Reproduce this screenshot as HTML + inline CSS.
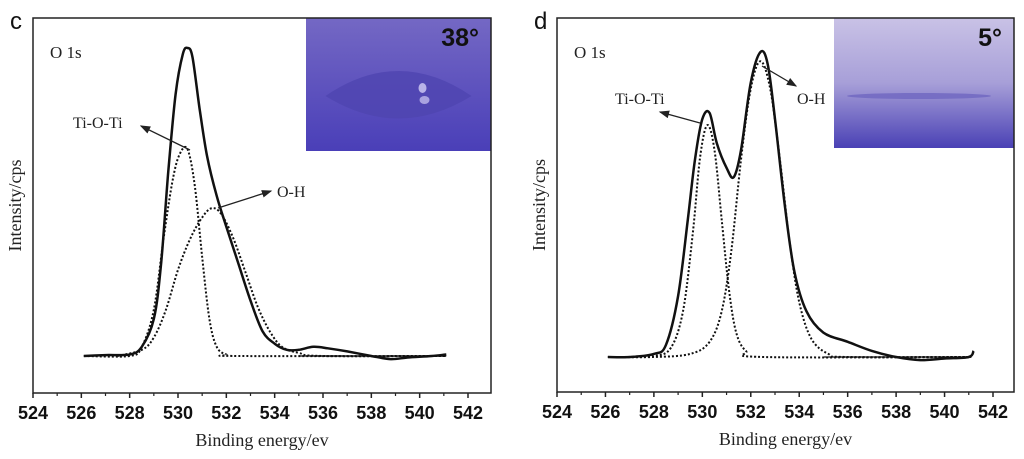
<!DOCTYPE html>
<html><head><meta charset="utf-8"><style>
body{margin:0;background:#fff;}
svg{display:block;}
.tick{font:bold 18px "Liberation Sans",sans-serif;fill:#111;}
.title{font:18px "Liberation Serif",serif;fill:#222;}
.ann{font:16px "Liberation Serif",serif;fill:#222;}
</style></head><body>
<svg id="chart" width="1024" height="459" viewBox="0 0 1024 459">
<defs>
<linearGradient id="gc" x1="0" y1="0" x2="0" y2="1"><stop offset="0" stop-color="#7468c4"/><stop offset="1" stop-color="#4a3fb8"/></linearGradient>
<linearGradient id="gd" x1="0" y1="0" x2="0" y2="1"><stop offset="0" stop-color="#c9c2e6"/><stop offset="0.5" stop-color="#a79fd8"/><stop offset="1" stop-color="#4a41b5"/></linearGradient>
<marker id="ar" markerWidth="8" markerHeight="6" refX="7" refY="3" orient="auto"><path d="M0,0 L8,3 L0,6 z" fill="#222"/></marker>
</defs>
</svg>
<script>
const xTicks=[524,526,528,530,532,534,536,538,540,542];
// panel c
const cEnvX=[526.1,527,528,528.5,529,529.3,529.6,529.9,530.2,530.4,530.6,530.9,531.2,531.6,532,532.5,533,533.5,534,534.5,535,535.6,536.2,537,538,538.8,539.5,540.5,541.1];
const cEnvY=[0,0.3,0.5,3,12,30,60,85,98,100,97,80,65,52,42,30,18,8,4,2,2,3,2.5,1.5,0,-1,-0.5,0,0.5];
const cTiX=[526.1,528,528.5,529,529.4,529.8,530.1,530.4,530.7,531,531.3,531.6,532,532.5,541.1];
const cTiY=[0,0,3,15,38,58,66,67,55,32,12,3,0.5,0,0];
const cOhX=[527.5,528.5,529,529.5,530,530.5,531,531.4,531.8,532.3,532.8,533.3,533.8,534.3,535,536,541.1];
const cOhY=[0,2,6,15,28,38,45,48,46,38,27,16,8,3,1,0,0];
// panel d
const dEnvX=[526.1,527,528,528.5,529,529.4,529.7,530,530.3,530.6,531,531.3,531.6,532,532.4,532.7,533,533.4,533.8,534.3,535,536,537,538,539,540,541,541.2];
const dEnvY=[0,0,1,4,20,45,65,78,80,70,62,59,68,90,100,96,78,50,28,15,8,5,2,0,-1,-0.5,0,2];
const dTiX=[526.1,527,528,528.7,529.2,529.6,529.9,530.2,530.5,530.8,531.1,531.4,531.8,532.5,541.1];
const dTiY=[0,0,0.3,3,15,40,65,76,68,45,22,8,2,0,0];
const dOhX=[526.1,528,529.5,530.3,530.8,531.2,531.6,532,532.4,532.8,533.2,533.6,534,534.5,535.2,536,541.1];
const dOhY=[0,0,1,5,15,35,65,88,97,88,65,38,18,6,1,0,0];

const svg=document.getElementById('chart');
const NS='http://www.w3.org/2000/svg';
function mk(t,a,p){const e=document.createElementNS(NS,t);for(const k in a)e.setAttribute(k,a[k]);(p||svg).appendChild(e);return e;}
function smooth(P){
  let d='M'+P[0][0].toFixed(1)+','+P[0][1].toFixed(1);
  for(let i=0;i<P.length-1;i++){
    const p0=P[Math.max(0,i-1)],p1=P[i],p2=P[i+1],p3=P[Math.min(P.length-1,i+2)];
    const c1=[p1[0]+(p2[0]-p0[0])/6,p1[1]+(p2[1]-p0[1])/6];
    const c2=[p2[0]-(p3[0]-p1[0])/6,p2[1]-(p3[1]-p1[1])/6];
    d+=` C${c1[0].toFixed(1)},${c1[1].toFixed(1)} ${c2[0].toFixed(1)},${c2[1].toFixed(1)} ${p2[0].toFixed(1)},${p2[1].toFixed(1)}`;
  }
  return d;
}

function panel(o){
  const g=mk('g',{});
  
  
  const xs=v=>o.x0+(v-524)*(o.xe-o.x0)/18;
  const ys=v=>o.base-v*o.k;
  const ins=mk('g',{},g);
  
  
  mk('rect',{x:o.ix,y:o.top,width:o.x1-o.ix,height:o.ih,fill:o.fill},ins);
  if(o.lens){
    const cx=(o.ix+o.x1)/2, cy=o.top+78;
    mk('path',{d:`M${cx-73},${cy} Q${cx},${cy-50} ${cx+73},${cy} Q${cx},${cy+45} ${cx-73},${cy} Z`,fill:'#4f45b0',opacity:0.8},ins);
    mk('ellipse',{cx:cx+24,cy:cy-8,rx:4,ry:5,fill:'#b9b3e8'},ins);
    mk('ellipse',{cx:cx+26,cy:cy+4,rx:5,ry:4,fill:'#a9a2e0'},ins);
  } else {
    const cx=(o.ix+o.x1)/2;
    mk('ellipse',{cx:cx-5,cy:o.top+78,rx:72,ry:3,fill:'#6f66c0',opacity:0.8},ins);
  }
  const lt=mk('text',{x:o.x1-12,y:o.top+28,'text-anchor':'end',style:'font:bold 25px "Liberation Sans",sans-serif;fill:#111'},ins);
  lt.textContent=o.angle;
  
  
  const fr=mk('rect',{x:o.x0,y:o.top,width:o.x1-o.x0,height:o.bot-o.top,fill:'none',stroke:'#222','stroke-width':1.5},g);
  
  
  for(let i=0;i<xTicks.length;i++){
    const v=xTicks[i],x=xs(v);
    mk('line',{x1:x,x2:x,y1:o.bot,y2:o.bot+5,stroke:'#222','stroke-width':1.5},g);
    if(i<xTicks.length-1)mk('line',{x1:xs(v+1),x2:xs(v+1),y1:o.bot,y2:o.bot+3,stroke:'#222','stroke-width':1.2},g);
    const t=mk('text',{x:x,y:o.bot+26,'text-anchor':'middle',class:'tick'},g);
    t.textContent=v;
    
    
  }
  const xt=mk('text',{x:(o.x0+o.x1)/2,y:o.bot+53,'text-anchor':'middle',class:'title'},g);
  xt.textContent='Binding energy/ev';
  
  
  const yt=mk('text',{x:0,y:0,'text-anchor':'middle',class:'title',transform:`translate(${o.x0-12},${(o.top+o.bot)/2}) rotate(-90)`},g);
  yt.textContent='Intensity/cps';
  
  
  const pl=mk('text',{x:o.x0-23,y:29,style:'font:24px "Liberation Sans",sans-serif;fill:#111'},g);
  pl.textContent=o.letter;
  
  
  const ol=mk('text',{x:o.x0+17,y:58,class:'ann',style:'font-size:17px'},g);
  ol.textContent='O 1s';
  
  
  function curve(X,Y,nm,dash,w){
    const d=smooth(X.map((v,i)=>[xs(v),ys(Y[i])]));
    const p=mk('path',{d:d,fill:'none',stroke:'#111','stroke-width':w,'stroke-linejoin':'round','stroke-dasharray':dash||'none'},g);
    
    
  }
  curve(o.tiX,o.tiY,'ti-o-ti-fit-curve','2 2',2);
  curve(o.ohX,o.ohY,'o-h-fit-curve','2 2',2);
  mk('line',{x1:xs(535),x2:xs(541.1),y1:ys(0),y2:ys(0),stroke:'#111','stroke-width':1.2},g);
  curve(o.envX,o.envY,'measured-envelope-curve',null,2.5);
  for(const a of o.anns){
    mk('line',{x1:a.x1,y1:a.y1,x2:a.x2,y2:a.y2,stroke:'#222','stroke-width':1.3,'marker-end':'url(#ar)'},g);
    const t=mk('text',{x:a.tx,y:a.ty,class:'ann'},g);
    t.textContent=a.t;
    
    
  }
}
panel({name:'panel-c',letter:'c',angle:'38°',x0:33,xe:468,x1:491,top:18,bot:393,base:356,k:3.08,ix:306,ih:133,fill:'url(#gc)',lens:true,
  envX:cEnvX,envY:cEnvY,tiX:cTiX,tiY:cTiY,ohX:cOhX,ohY:cOhY,
  anns:[{x1:190,y1:150,x2:141,y2:126,tx:73,ty:128,t:'Ti-O-Ti'},{x1:218,y1:208,x2:271,y2:191,tx:277,ty:197,t:'O-H'}]});
panel({name:'panel-d',letter:'d',angle:'5°',x0:557,xe:993,x1:1014,top:18,bot:392,base:357,k:3.05,ix:834,ih:130,fill:'url(#gd)',lens:false,
  envX:dEnvX,envY:dEnvY,tiX:dTiX,tiY:dTiY,ohX:dOhX,ohY:dOhY,
  anns:[{x1:700,y1:123,x2:660,y2:112,tx:615,ty:104,t:'Ti-O-Ti'},{x1:762,y1:66,x2:796,y2:86,tx:797,ty:104,t:'O-H'}]});
</script>
</body></html>
